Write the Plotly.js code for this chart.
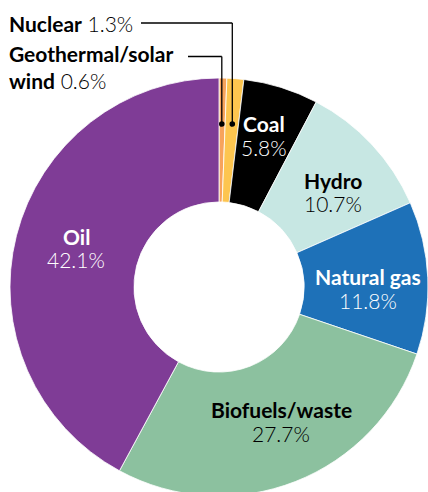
<!DOCTYPE html>
<html>
<head>
<meta charset="utf-8">
<script src="https://cdn.plot.ly/plotly-3.0.1.min.js"></script>
<style>
html,body{margin:0;padding:0;overflow:hidden;background:#fff;}
#chart{width:428px;height:500px;}
</style>
</head>
<body>
<div id="chart"></div>
<script>
// Data
const labels = ["Geothermal/solar wind", "Nuclear", "Coal", "Hydro", "Natural gas", "Biofuels/waste", "Oil"];
const values = [0.6, 1.3, 5.8, 10.7, 11.8, 27.7, 42.1];
const colors = ["#f7a35c", "#fdc54f", "#000000", "#c7e7e3", "#1e71b8", "#8cc19f", "#7f3c96"];

const W = 428, H = 500;
const px = x => x / W;
const py = y => 1 - y / H;
const FONT = "Lato, 'Open Sans', sans-serif";
const FS = 21;

const trace = {
  type: "pie",
  labels: labels,
  values: values,
  sort: false,
  direction: "clockwise",
  rotation: 0,
  hole: 0.407,
  textinfo: "none",
  hoverinfo: "label+value",
  marker: {colors: colors, line: {color: "#ffffff", width: 0.8}},
  domain: {x: [px(10), 1], y: [py(496), py(78)]},
  showlegend: false
};

const pct = v => v.toFixed(1) + "%";
const annotations = [];
// inside labels: [index, centerX, labelY, pctY, color]
const inside = [
  [2, 264, 123, 147, "#ffffff"],
  [3, 333, 180, 204, "#000000"],
  [4, 368, 276, 300, "#ffffff"],
  [5, 281, 409, 433, "#000000"],
  [6, 76, 236, 259, "#ffffff"]
];
inside.forEach(([i, x, y1, y2, c]) => {
  annotations.push({xref: "paper", yref: "paper", x: px(x), y: py(y1), xanchor: "center", yanchor: "middle",
    text: "<b>" + labels[i] + "</b>", showarrow: false, font: {family: FONT, size: FS, color: c}});
  annotations.push({xref: "paper", yref: "paper", x: px(x), y: py(y2), xanchor: "center", yanchor: "middle",
    text: pct(values[i]), showarrow: false, font: {family: FONT, size: FS, color: c, weight: 300}});
});
// outside labels
annotations.push({xref: "paper", yref: "paper", x: px(7), y: py(23), xanchor: "left", yanchor: "middle",
  text: "<b>" + labels[1] + "</b> " + pct(values[1]), showarrow: false, font: {family: FONT, size: FS, color: "#000", weight: 300}});
const geo = labels[0].split(" ");
annotations.push({xref: "paper", yref: "paper", x: px(7), y: py(67), xanchor: "left", yanchor: "middle", align: "left",
  text: "<b>" + geo[0] + "</b><br><b>" + geo[1] + "</b> " + pct(values[0]), showarrow: false,
  font: {family: FONT, size: FS, color: "#000", weight: 300}});

const ln = (x0, y0, x1, y1) => ({type: "line", xref: "paper", yref: "paper", x0: px(x0), y0: py(y0), x1: px(x1), y1: py(y1),
  line: {color: "#000", width: 1.3}});
const dot = (x, y) => ({type: "circle", xref: "paper", yref: "paper", x0: px(x - 2.8), x1: px(x + 2.8), y0: py(y + 2.8), y1: py(y - 2.8),
  fillcolor: "#000", line: {width: 0}});
const shapes = [
  ln(141, 23, 232.3, 23), ln(232.3, 23, 232.3, 124), dot(232.3, 124),
  ln(188, 56.5, 221.8, 56.5), ln(221.8, 56.5, 221.8, 124), dot(221.8, 124)
];

Plotly.newPlot("chart", [trace], {
  width: W, height: H,
  margin: {l: 0, r: 0, t: 0, b: 0},
  paper_bgcolor: "#fff",
  annotations: annotations,
  shapes: shapes
}, {displayModeBar: false, staticPlot: true});
</script>
</body>
</html>
